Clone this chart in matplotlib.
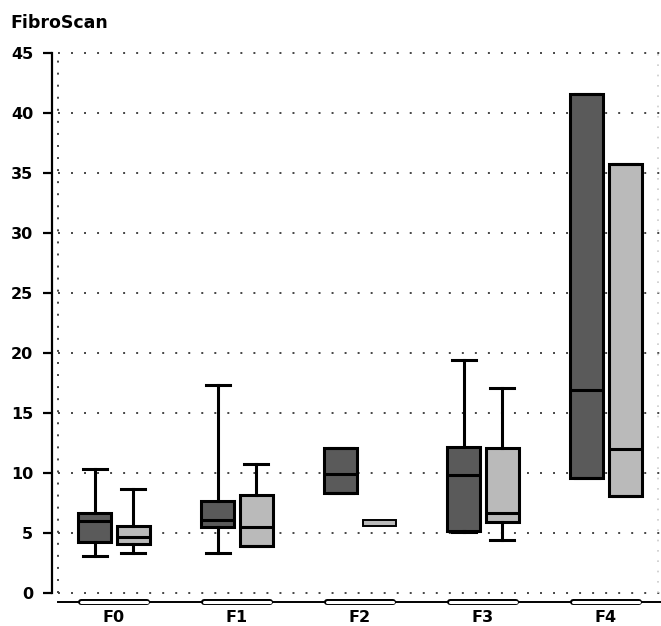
import numpy as np
import matplotlib
matplotlib.use('Agg')
from matplotlib import pyplot as plt
import matplotlib.transforms as mtransforms

# data (FibroScan kPa per fibrosis stage)
stages = ['F0', 'F1', 'F2', 'F3', 'F4']

# dark series: low whisker, q1, median, q3, high whisker
dark_lo  = [3.1, 3.3, 8.3, 5.1, 9.6]
dark_q1  = [4.25, 5.5, 8.3, 5.2, 9.6]
dark_med = [6.0, 6.1, 9.9, 9.8, 16.9]
dark_q3  = [6.7, 7.7, 12.1, 12.2, 41.6]
dark_hi  = [10.3, 17.3, 12.1, 19.4, 41.6]

# light series
light_lo  = [3.35, 3.9, 5.55, 4.4, 8.1]
light_q1  = [4.1, 3.9, 5.55, 5.9, 8.1]
light_med = [4.7, 5.5, 5.8, 6.65, 12.0]
light_q3  = [5.6, 8.2, 6.05, 12.1, 35.75]
light_hi  = [8.7, 10.75, 6.05, 17.1, 35.75]

yticks = [0, 5, 10, 15, 20, 25, 30, 35, 40, 45]

W, H = 661, 626
fig = plt.figure(figsize=(W / 100, H / 100), dpi=100)
# axes box in pixels: left 58, right 661, top 53, bottom 593
ax = fig.add_axes([58 / W, 1 - 593 / H, (661 - 58) / W, (593 - 53) / H])

def make_stats(lo, q1, med, q3, hi):
    out = []
    for i in range(len(lo)):
        out.append(dict(whislo=lo[i], q1=q1[i], med=med[i], q3=q3[i], whishi=hi[i], fliers=[]))
    return out

x = np.arange(len(stages))
off = 0.155
lw = 2.2
common = dict(widths=0.268, capwidths=0.2, patch_artist=True, showfliers=False,
              medianprops=dict(color='black', linewidth=lw),
              whiskerprops=dict(color='black', linewidth=lw),
              capprops=dict(color='black', linewidth=lw))

# grid first so boxes sit on top
for yv in yticks:
    ax.plot([-0.455, 4.447], [yv, yv], color='#444444', lw=1.4,
            ls=(0, (1, 5.7)), zorder=0, clip_on=False)
ax.plot([-0.455, -0.455], [0, 45], color='#444444', lw=1.4,
        ls=(0, (1, 5.2)), zorder=0, clip_on=False)
ax.plot([4.42, 4.42], [0, 45], color='#cccccc', lw=1.2,
        ls=(0, (1, 5.2)), zorder=0, clip_on=False)

ax.bxp(make_stats(dark_lo, dark_q1, dark_med, dark_q3, dark_hi), positions=x - off,
       boxprops=dict(facecolor='#5a5a5a', edgecolor='black', linewidth=lw), **common)
lb = ax.bxp(make_stats(light_lo, light_q1, light_med, light_q3, light_hi), positions=x + off,
            boxprops=dict(facecolor='#bababa', edgecolor='black', linewidth=lw), **common)
# F2 light box is very flat: thin outline, no median line
lb['boxes'][2].set_linewidth(1.4)
lb['medians'][2].set_visible(False)
for c in lb['caps'][4:6] + lb['whiskers'][4:6]:
    c.set_visible(False)

ax.set_xlim(-0.455, 4.447)
ax.set_ylim(0, 45)

for s in ['top', 'right']:
    ax.spines[s].set_visible(False)
ax.spines['left'].set_position(('outward', 4.3))
ax.spines['left'].set_linewidth(1.6)
ax.spines['bottom'].set_position(('outward', 6.5))
ax.spines['bottom'].set_linewidth(1.4)

ax.set_yticks(yticks)
ax.set_yticklabels([str(v) for v in yticks], fontweight='bold', fontsize=11.5)
ax.tick_params(axis='y', length=6.5, width=1.6, pad=7)
ax.set_xticks(x)
ax.set_xticklabels(stages, fontweight='bold', fontsize=11.5)
ax.tick_params(axis='x', length=0, pad=6)

# small pill shapes on the x axis under each stage
trans = mtransforms.blended_transform_factory(ax.transData, ax.transAxes)
ypill = -9 / 540
for xi in x:
    ax.plot([xi - 0.265, xi + 0.265], [ypill, ypill], color='black', lw=4.3,
            solid_capstyle='round', transform=trans, clip_on=False, zorder=5)
    ax.plot([xi - 0.265, xi + 0.265], [ypill, ypill], color='white', lw=2.2,
            solid_capstyle='round', transform=trans, clip_on=False, zorder=6)

fig.text(10 / W, 1 - 14 / H, 'FibroScan', fontweight='bold', fontsize=12.5, va='top', ha='left')

fig.savefig('out.png', dpi=100)
